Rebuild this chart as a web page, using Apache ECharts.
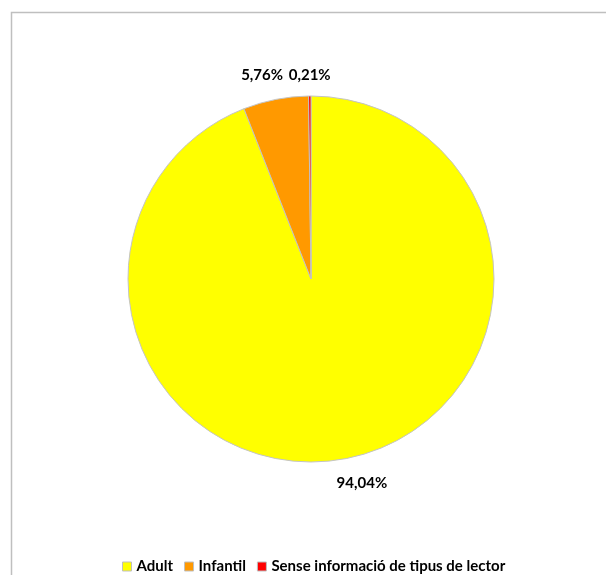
<!DOCTYPE html>
<html><head><meta charset="utf-8">
<script src="https://cdn.jsdelivr.net/npm/echarts@6/dist/echarts.min.js"></script>
<style>html,body{margin:0;padding:0;background:#fff}#c{width:606px;height:575px}</style>
</head><body><div id="c"></div>
<script>
const categories = ['Adult', 'Infantil', 'Sense informació de tipus de lector'];
const values = [94.04, 5.76, 0.21];
const labels = ['94,04%', '5,76%', '0,21%'];
const colors = ['#FFFF00', '#FF9900', '#FF0000'];

const chart = echarts.init(document.getElementById('c'), null, {renderer: 'canvas'});
const font = 'Lato, "Open Sans", sans-serif';
// small nudges so the labels sit where the reference puts them
const labelNudge = [[-13, 1], [12, -1], [21, 3]];
chart.setOption({
  animation: false,
  backgroundColor: '#fff',
  graphic: [{
    type: 'rect', left: 9, top: 10, shape: {width: 700, height: 700},
    style: {fill: 'none', stroke: '#bfbfbf', lineWidth: 1.5}, silent: true, z: -1
  }],
  legend: {
    bottom: 1, left: 122, itemWidth: 9, itemHeight: 9, itemGap: 11, padding: 0,
    icon: 'rect',
    itemStyle: {borderColor: '#bfbfbf', borderWidth: 1},
    textStyle: {fontFamily: font, fontWeight: 'bold', fontSize: 15, color: '#000'},
    data: categories
  },
  series: [{
    type: 'pie',
    center: [311, 279],
    radius: 183,
    startAngle: 90,
    clockwise: true,
    color: colors,
    itemStyle: {borderColor: '#c4c4c4', borderWidth: 1},
    label: {
      show: true, position: 'outside',
      formatter: p => labels[p.dataIndex],
      fontFamily: font, fontWeight: 'bold', fontSize: 15, color: '#000',
      distanceToLabelLine: 0
    },
    labelLine: {show: false, length: 24, length2: 0},
    labelLayout: p => ({
      x: p.labelRect.x + p.labelRect.width / 2 + labelNudge[p.dataIndex][0],
      y: p.labelRect.y + p.labelRect.height / 2 + labelNudge[p.dataIndex][1],
      align: 'center', verticalAlign: 'middle'
    }),
    avoidLabelOverlap: false,
    data: categories.map((n, i) => ({name: n, value: values[i]}))
  }]
});
</script></body></html>
